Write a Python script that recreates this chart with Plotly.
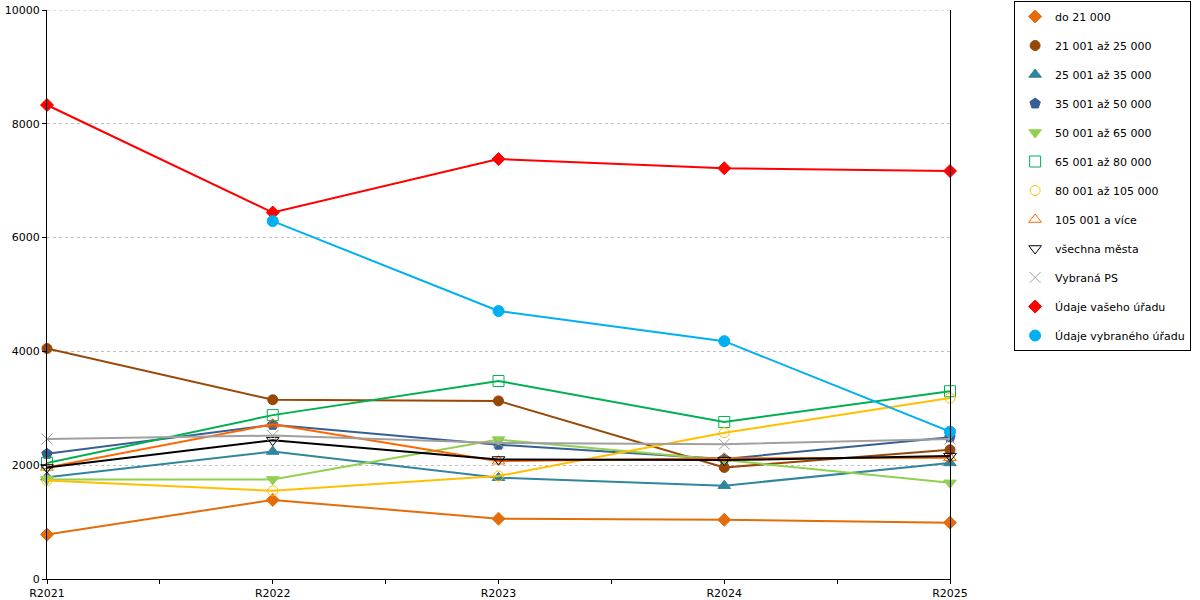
import plotly.graph_objs as go

# categories (years) and series values
years = ['R2021', 'R2022', 'R2023', 'R2024', 'R2025']

do_21000 = [780, 1390, 1060, 1040, 990]
s21_25 = [4050, 3150, 3130, 1960, 2270]
s25_35 = [1790, 2240, 1780, 1640, 2040]
s35_50 = [2200, 2710, 2360, 2110, 2490]
s50_65 = [1750, 1750, 2450, 2090, 1690]
s65_80 = [2040, 2880, 3480, 2760, 3300]
s80_105 = [1730, 1550, 1810, 2570, 3180]
s105_vice = [1960, 2720, 2070, 2120, 2130]
vsechna_mesta = [1960, 2440, 2100, 2090, 2160]
vybrana_ps = [2460, 2520, 2390, 2370, 2460]
vas_urad = [8330, 6440, 7380, 7220, 7170]
vybrany_urad = [None, 6290, 4710, 4180, 2590]

y_max = 10000

series = [
    ('do 21 000', do_21000, '#E46C0A', 'diamond', 10),
    ('21 001 až 25 000', s21_25, '#974806', 'circle', 10),
    ('25 001 až 35 000', s25_35, '#31859C', 'triangle-up', 11),
    ('35 001 až 50 000', s35_50, '#376092', 'pentagon', 11),
    ('50 001 až 65 000', s50_65, '#92D050', 'triangle-down', 11),
    ('65 001 až 80 000', s65_80, '#00B050', 'square-open', 11),
    ('80 001 až 105 000', s80_105, '#FFC000', 'circle-open', 10),
    ('105 001 a více', s105_vice, '#FF6600', 'triangle-up-open', 11),
    ('všechna města', vsechna_mesta, '#000000', 'triangle-down-open', 11),
    ('Vybraná PS', vybrana_ps, '#A0A0A0', 'x-thin-open', 11),
    ('Údaje vašeho úřadu', vas_urad, '#FF0000', 'diamond', 10),
    ('Údaje vybraného úřadu', vybrany_urad, '#00B0F0', 'circle', 11),
]

xs = list(range(len(years)))

data = []
for name, vals, color, symbol, size in series:
    # the line itself
    data.append(go.Scatter(
        x=xs, y=vals, mode='lines+markers', name=name,
        line=dict(color=color, width=2),
        marker=dict(symbol=symbol, size=size, color=color,
                    line=dict(color=color, width=1)),
        cliponaxis=False, showlegend=False, connectgaps=False
    ))
    # legend entry shows only the marker
    data.append(go.Scatter(
        x=[None], y=[None], mode='markers', name=name, legendgroup=name,
        marker=dict(symbol=symbol, size=size, color=color,
                    line=dict(color=color, width=1)),
    ))

font = dict(family='DejaVu Sans', size=11, color='#000000')

layout = go.Layout(
    width=1200, height=600,
    margin=dict(l=47, r=250, t=10, b=21, autoexpand=False),
    paper_bgcolor='white', plot_bgcolor='white',
    font=font,
    xaxis=dict(
        range=[0, 4], tickvals=xs, ticktext=years,
        showline=True, linecolor='black', linewidth=1,
        ticks='outside', ticklen=4, tickcolor='black',
        minor=dict(dtick=0.5, tick0=0, ticks='outside', ticklen=4, tickcolor='black'),
        showgrid=False, zeroline=False,
    ),
    yaxis=dict(
        range=[0, y_max], tick0=0, dtick=2000, tickformat='d',
        showline=True, linecolor='black', linewidth=1, mirror=True,
        ticks='outside', ticklen=4, tickcolor='black',
        showgrid=True, gridcolor='#C0C0C0', gridwidth=1, griddash='3px,3px',
        zeroline=False, ticklabeloverflow='allow',
    ),
    # plotly leaves out the gridline on the top edge, so draw it
    shapes=[dict(type='line', xref='paper', x0=0, x1=1, yref='y', y0=y_max, y1=y_max,
                 line=dict(color='#C0C0C0', width=1, dash='3px,3px'), layer='below')],
    legend=dict(
        x=1.071, y=1.0158, xanchor='left', yanchor='top',
        bordercolor='black', borderwidth=1, bgcolor='white',
        font=dict(family='DejaVu Sans', size=11, color='#000000'),
        tracegroupgap=10, itemwidth=30, maxheight=1.0,
    ),
)

fig = go.Figure(data=data, layout=layout)
# drop the default body margin so the 1200x600 figure fills the window
fig.write_html('out.html', config={'displayModeBar': False},
               post_script="document.body.style.margin='0px';")
